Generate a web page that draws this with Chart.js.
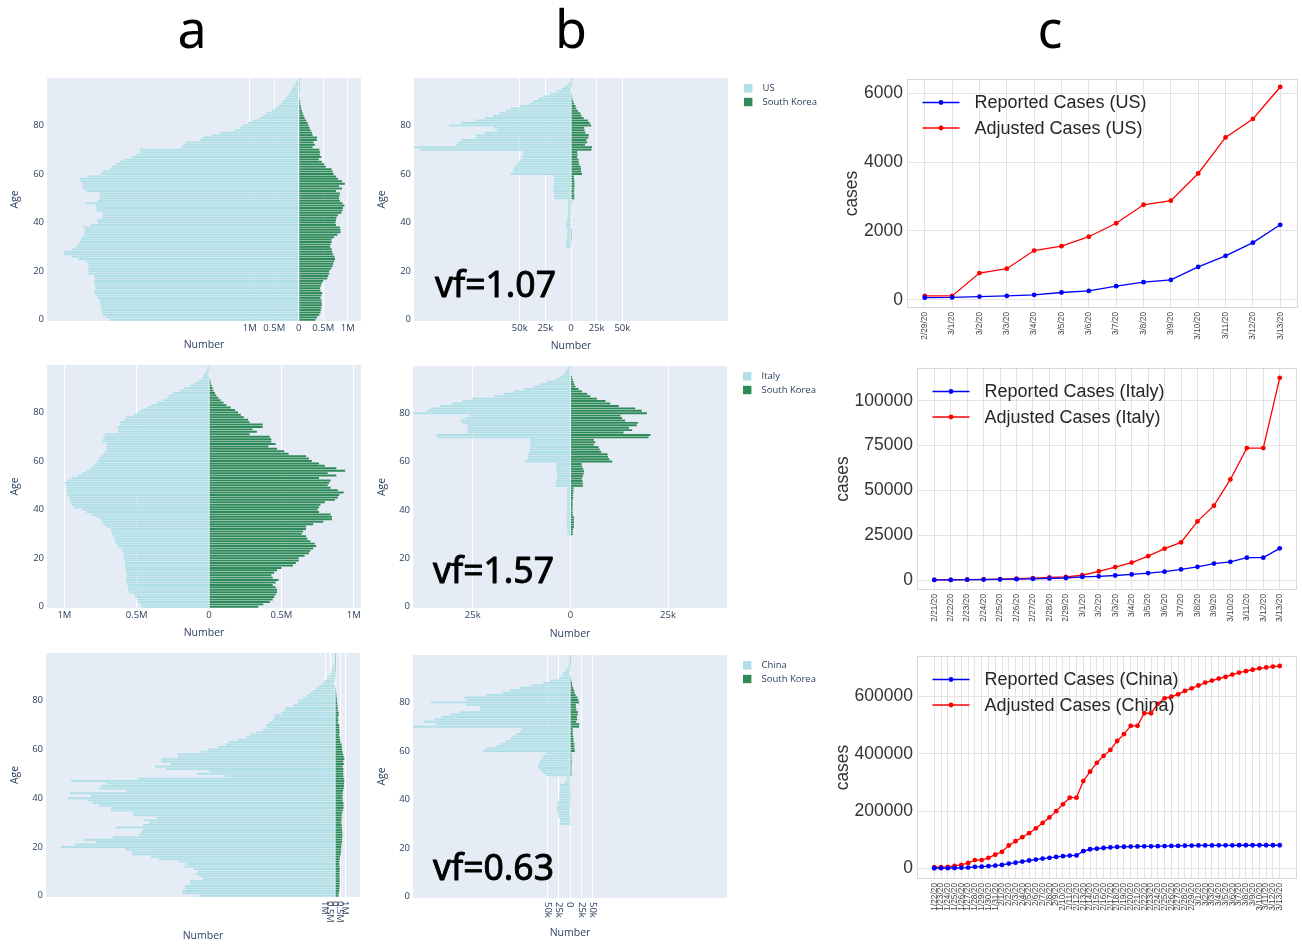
<!DOCTYPE html>
<html>
<head>
<meta charset="utf-8">
<script src="https://cdn.jsdelivr.net/npm/chart.js@4.4.0/dist/chart.umd.min.js"></script>
<style>
  body { margin: 0; background: #fff; width: 1302px; height: 944px; position: relative; overflow: hidden; }
  canvas { position: absolute; }
  .panel { position: absolute; top: 2px; width: 100px; text-align: center; font-family: 'Noto Sans', sans-serif; font-size: 52px; line-height: 52px; color: #000; }
</style>
</head>
<body>
<div class="panel" style="left:142px">a</div>
<div class="panel" style="left:521px">b</div>
<div class="panel" style="left:1000px">c</div>

<canvas id="a1"></canvas><canvas id="a2"></canvas><canvas id="a3"></canvas>
<canvas id="b1"></canvas><canvas id="b2"></canvas><canvas id="b3"></canvas>
<canvas id="c1"></canvas><canvas id="c2"></canvas><canvas id="c3"></canvas>

<script>
// ---- data: population by single year of age (millions) ----
const ages = Array.from({length: 100}, (_, i) => String(i));
const ageTicks = [0, 20, 40, 60, 80];

const usPop = [
  3.86, 3.95, 4.00, 4.02, 4.03, 4.04, 4.05, 4.06, 4.06, 4.10,
  4.15, 4.18, 4.17, 4.15, 4.16, 4.18, 4.17, 4.16, 4.18, 4.30,
  4.30, 4.30, 4.28, 4.30, 4.33, 4.50, 4.64, 4.80, 4.80, 4.62,
  4.55, 4.50, 4.47, 4.45, 4.42, 4.38, 4.37, 4.37, 4.40, 4.25,
  4.10, 4.12, 4.02, 4.00, 4.02, 4.13, 4.13, 4.15, 4.35, 4.10,
  4.06, 4.07, 4.07, 4.33, 4.40, 4.40, 4.42, 4.47, 4.47, 4.30,
  4.03, 4.00, 3.86, 3.82, 3.72, 3.65, 3.55, 3.41, 3.31, 3.24,
  3.24, 2.39, 2.36, 2.29, 2.02, 1.95, 1.78, 1.61, 1.31, 1.20,
  1.14, 1.03, 0.93, 0.80, 0.73, 0.66, 0.56, 0.49, 0.42, 0.35,
  0.32, 0.27, 0.24, 0.20, 0.17, 0.14, 0.12, 0.08, 0.05, 0.01
];
const italyPop = [
  0.465, 0.475, 0.49, 0.50, 0.51, 0.52, 0.55, 0.56, 0.56, 0.565,
  0.57, 0.575, 0.575, 0.57, 0.575, 0.575, 0.58, 0.58, 0.58, 0.585,
  0.59, 0.59, 0.59, 0.60, 0.61, 0.63, 0.645, 0.65, 0.65, 0.66,
  0.67, 0.675, 0.68, 0.71, 0.73, 0.74, 0.75, 0.78, 0.81, 0.85,
  0.88, 0.93, 0.95, 0.96, 0.96, 0.97, 0.98, 0.98, 0.985, 0.98,
  0.99, 1.00, 0.98, 0.95, 0.91, 0.88, 0.85, 0.82, 0.80, 0.78,
  0.77, 0.76, 0.75, 0.73, 0.72, 0.71, 0.71, 0.71, 0.74, 0.73,
  0.73, 0.72, 0.63, 0.63, 0.63, 0.615, 0.615, 0.59, 0.57, 0.52,
  0.49, 0.47, 0.43, 0.40, 0.36, 0.32, 0.29, 0.28, 0.25, 0.20,
  0.17, 0.13, 0.10, 0.07, 0.05, 0.04, 0.03, 0.02, 0.012, 0.005
];
const chinaPop = [
  13.6, 15.3, 15.2, 15.0, 15.0, 14.5, 14.5, 13.2, 13.6, 13.9,
  13.7, 14.1, 15.1, 14.9, 15.6, 17.6, 18.4, 20.3, 20.3, 21.0,
  27.4, 26.0, 23.9, 25.1, 22.2, 19.6, 19.4, 19.2, 21.9, 19.2,
  18.6, 19.1, 17.8, 20.2, 20.2, 22.4, 22.4, 23.6, 24.2, 24.7,
  26.7, 24.4, 26.5, 20.9, 23.6, 23.4, 22.8, 26.4, 19.7, 11.0,
  13.8, 12.6, 16.9, 18.0, 16.4, 17.4, 17.4, 15.7, 15.7, 13.4,
  12.7, 11.7, 10.9, 10.6, 9.7, 8.9, 8.5, 7.9, 7.2, 6.9,
  6.9, 6.6, 6.2, 6.1, 6.0, 5.4, 5.0, 5.0, 4.2, 3.7,
  3.7, 3.2, 2.8, 2.5, 2.2, 1.9, 1.6, 1.3, 1.0, 0.8,
  0.6, 0.45, 0.35, 0.27, 0.2, 0.15, 0.11, 0.08, 0.05, 0.03
];
const koreaPop = [
  0.34, 0.375, 0.42, 0.44, 0.45, 0.46, 0.47, 0.47, 0.46, 0.44,
  0.46, 0.48, 0.44, 0.43, 0.45, 0.47, 0.50, 0.58, 0.60, 0.62,
  0.62, 0.66, 0.69, 0.70, 0.72, 0.74, 0.73, 0.70, 0.68, 0.67,
  0.64, 0.65, 0.67, 0.67, 0.72, 0.79, 0.85, 0.85, 0.84, 0.76,
  0.75, 0.76, 0.77, 0.80, 0.87, 0.89, 0.90, 0.93, 0.89, 0.84,
  0.82, 0.83, 0.84, 0.76, 0.88, 0.82, 0.94, 0.88, 0.80, 0.76,
  0.71, 0.69, 0.67, 0.55, 0.52, 0.47, 0.41, 0.46, 0.43, 0.43,
  0.42, 0.28, 0.33, 0.30, 0.37, 0.37, 0.28, 0.27, 0.24, 0.22,
  0.20, 0.18, 0.15, 0.12, 0.10, 0.08, 0.065, 0.05, 0.04, 0.03,
  0.025, 0.018, 0.012, 0.009, 0.006, 0.004, 0.003, 0.002, 0.001, 0.001
];

// ---- data: cases by age (thousands) ----
const usCases = [
  0, 0, 0, 0, 0, 0, 0, 0, 0, 0,
  0, 0, 0, 0, 0, 0, 0, 0, 0, 0,
  0, 0, 0, 0, 0, 0, 0, 0, 0, 0,
  5, 5, 5, 4, 4, 4, 3.5, 3.5, 5, 5,
  5, 3.5, 3.5, 3, 3, 3, 3, 3, 3, 3,
  16, 16.5, 16.5, 17, 17, 17, 17, 16.5, 16.5, 16,
  59, 57, 56, 55, 53, 51, 49, 48, 47, 47,
  147, 155, 112, 110, 107, 93, 93, 84, 72, 75,
  119, 107, 93, 84, 76, 70, 64, 59, 50, 40,
  37, 32, 27, 20, 14, 9, 6, 2.6, 1, 0.5
];
const italyCases = [
  0, 0, 0, 0, 0, 0, 0, 0, 0, 0,
  0, 0, 0, 0, 0, 0, 0, 0, 0, 0,
  0, 0, 0, 0, 0, 0, 0, 0, 0, 0,
  0.8, 0.8, 0.8, 0.9, 0.9, 1.0, 1.0, 1.0, 0.9, 0.9,
  0.9, 0.8, 0.8, 0.8, 0.9, 0.9, 0.9, 0.9, 0.8, 0.8,
  3.8, 3.8, 3.6, 3.4, 3.4, 3.4, 3.5, 3.6, 3.6, 3.7,
  11.5, 11.0, 10.9, 10.9, 10.4, 10.4, 10.2, 10.4, 10.2, 10.4,
  34.0, 34.3, 26.4, 26.5, 26.4, 26.3, 27.7, 28.2, 26.9, 25.6,
  40.5, 36.7, 35.8, 33.3, 30.3, 27.7, 25.2, 19.6, 17.0, 14.5,
  11.9, 9.5, 7.7, 6.0, 3.8, 2.6, 1.9, 1.3, 0.9, 0.4
];
const chinaCases = [
  0, 0, 0, 0, 0, 0, 0, 0, 0, 0,
  0, 0, 0, 0, 0, 0, 0, 0, 0, 0,
  0, 0, 0, 0, 0, 0, 0, 0, 0, 0,
  22, 22, 22, 26, 26, 27, 29, 29, 29, 28,
  23.5, 23.5, 23, 22, 22, 22, 22, 12, 7, 7,
  53, 60, 65, 70, 70, 68, 66, 62, 59, 53,
  191, 184, 162, 151, 141, 132, 126, 118, 110, 107,
  350, 294, 323, 298, 283, 265, 243, 198, 198, 228,
  306, 228, 232, 184, 148, 132, 110, 85, 59, 44,
  24, 18, 15, 11, 7, 5, 3, 2, 1.5, 0.7
];
const koreaCases = [
  0, 0, 0, 0, 0, 0, 0, 0, 0, 0,
  0, 0, 0, 0, 0, 0, 0, 0, 0, 0,
  0, 0, 0, 0, 0, 0, 0, 0, 0, 0,
  0.6, 0.6, 0.7, 0.9, 0.9, 0.9, 0.9, 0.9, 0.6, 0.6,
  0.5, 0.6, 0.6, 0.6, 0.6, 0.7, 0.7, 0.7, 0.8, 0.8,
  3.2, 3.2, 3.1, 3.0, 3.2, 3.4, 3.5, 3.3, 3.0, 2.9,
  10.7, 10.0, 9.6, 9.5, 7.9, 7.5, 7.2, 6.0, 6.4, 6.0,
  20.0, 20.5, 13.6, 15.8, 15.0, 17.0, 17.3, 14.0, 13.2, 12.8,
  19.6, 18.3, 16.6, 12.4, 10.2, 9.0, 6.8, 5.1, 4.3, 3.0,
  2.1, 1.3, 1.0, 0.8, 0.6, 0.4, 0.2, 0.15, 0.1, 0.05
];

const popTicks = [-1, -0.5, 0, 0.5, 1];
const popTickLabels = ['1M', '0.5M', '0', '0.5M', '1M'];
const caseTicksWide = [-50, -25, 0, 25, 50];
const caseTickLabelsWide = ['50k', '25k', '0', '25k', '50k'];
const caseTicksNarrow = [-25, 0, 25];
const caseTickLabelsNarrow = ['25k', '0', '25k'];
const vfLabels = ['vf=1.07', 'vf=1.57', 'vf=0.63'];

// ---- data: daily cumulative cases ----
const usDates = ['2/29/20', '3/1/20', '3/2/20', '3/3/20', '3/4/20', '3/5/20', '3/6/20', '3/7/20',
  '3/8/20', '3/9/20', '3/10/20', '3/11/20', '3/12/20', '3/13/20'];
const usReported = [68, 74, 98, 118, 149, 217, 262, 402, 518, 583, 959, 1281, 1663, 2179];
const usAdjusted = [117, 117, 780, 907, 1434, 1561, 1834, 2224, 2761, 2878, 3668, 4712, 5249, 6175];
const usYTicks = [0, 2000, 4000, 6000];

const italyDates = ['2/21/20', '2/22/20', '2/23/20', '2/24/20', '2/25/20', '2/26/20', '2/27/20', '2/28/20',
  '2/29/20', '3/1/20', '3/2/20', '3/3/20', '3/4/20', '3/5/20', '3/6/20', '3/7/20', '3/8/20', '3/9/20',
  '3/10/20', '3/11/20', '3/12/20', '3/13/20'];
const italyReported = [20, 62, 155, 229, 322, 453, 655, 888, 1128, 1694, 2036, 2502, 3089, 3858,
  4636, 5883, 7375, 9172, 10149, 12462, 12462, 17660];
const italyAdjusted = [30, 100, 240, 360, 500, 710, 1030, 1400, 1770, 2660, 4800, 7200, 9700, 13300,
  17500, 21000, 32700, 41500, 56100, 73600, 73600, 112800];
const italyYTicks = [0, 25000, 50000, 75000, 100000];

const chinaDates = ['1/22/20', '1/23/20', '1/24/20', '1/25/20', '1/26/20', '1/27/20', '1/28/20', '1/29/20',
  '1/30/20', '1/31/20', '2/1/20', '2/2/20', '2/3/20', '2/4/20', '2/5/20', '2/6/20', '2/7/20', '2/8/20',
  '2/9/20', '2/10/20', '2/11/20', '2/12/20', '2/13/20', '2/14/20', '2/15/20', '2/16/20', '2/17/20',
  '2/18/20', '2/19/20', '2/20/20', '2/21/20', '2/22/20', '2/23/20', '2/24/20', '2/25/20', '2/26/20',
  '2/27/20', '2/28/20', '2/29/20', '3/1/20', '3/2/20', '3/3/20', '3/4/20', '3/5/20', '3/6/20', '3/7/20',
  '3/8/20', '3/9/20', '3/10/20', '3/11/20', '3/12/20', '3/13/20'];
const chinaReported = [555, 653, 941, 1438, 2118, 2927, 5578, 6165, 8235, 9925, 12038, 16787, 19887,
  23898, 27643, 30802, 34395, 37129, 40159, 42762, 44802, 45221, 60368, 66885, 69030, 71224, 73258,
  75136, 75639, 76197, 76823, 77016, 77234, 77749, 78159, 78598, 78927, 79355, 79929, 80134, 80261,
  80380, 80497, 80667, 80768, 80814, 80859, 80879, 80908, 80932, 80954, 80973];
const chinaAdjusted = [4600, 4600, 5000, 9000, 12000, 19000, 29000, 29000, 37000, 48000, 58000, 80000,
  95000, 109000, 123000, 140000, 159000, 178000, 200000, 224000, 247000, 247000, 305000, 338000, 369000,
  393000, 414000, 445000, 469000, 498000, 498000, 542000, 542000, 575000, 594000, 600000, 608000, 620000,
  629000, 639000, 649000, 656000, 663000, 669000, 677000, 684000, 689000, 694000, 699000, 702000,
  705000, 707000];
const chinaYTicks = [0, 200000, 400000, 600000];

// ---- styling ----
const PLOT_BG = '#E5ECF6';
const PLOTLY_TEXT = '#2a3f5f';
const LEFT_COLOR = '#b0e0e6';   // powderblue
const RIGHT_COLOR = '#2e8b57';  // seagreen
const OPEN_SANS = "'Open Sans', sans-serif";
const ARIAL = "'Liberation Sans', Arial, sans-serif";

const plotBg = {
  id: 'plotBg',
  beforeDraw(chart, args, opts) {
    if (!opts.color) return;
    const {ctx, chartArea: a} = chart;
    ctx.save();
    ctx.fillStyle = opts.color;
    ctx.fillRect(a.left, a.top, a.width, a.height);
    ctx.restore();
  }
};

const sideLegend = {
  id: 'sideLegend',
  afterDraw(chart, args, opts) {
    if (!opts.show) return;
    const {ctx, chartArea: a} = chart;
    ctx.save();
    ctx.font = '9.5px ' + OPEN_SANS;
    ctx.textBaseline = 'middle';
    ctx.textAlign = 'left';
    chart.data.datasets.forEach((ds, i) => {
      const y = a.top + 10.3 + i * 13.7;
      ctx.fillStyle = ds.backgroundColor;
      ctx.fillRect(a.right + 16, y - 4.2, 8.4, 8.4);
      ctx.fillStyle = PLOTLY_TEXT;
      ctx.fillText(ds.label, a.right + 34.5, y);
    });
    ctx.restore();
  }
};

// big "vf=" note; regular face with a thin outline gives a medium weight
const vfNote = {
  id: 'vfNote',
  afterDraw(chart, args, opts) {
    if (!opts.text) return;
    const {ctx, chartArea: a} = chart;
    const x = a.left + opts.dx, y = a.bottom + opts.dy;
    ctx.save();
    ctx.font = "35.5px 'Noto Sans', sans-serif";
    ctx.fillStyle = '#000';
    ctx.strokeStyle = '#000';
    ctx.lineWidth = 0.9;
    ctx.lineJoin = 'round';
    ctx.textBaseline = 'alphabetic';
    ctx.textAlign = 'left';
    ctx.fillText(opts.text, x, y);
    ctx.strokeText(opts.text, x, y);
    ctx.restore();
  }
};

// plotly-style tick labels turned 90 degrees clockwise
const cwTicks = {
  id: 'cwTicks',
  afterDraw(chart, args, opts) {
    if (!opts.labels) return;
    const {ctx, chartArea: a} = chart;
    const s = chart.scales.x;
    ctx.save();
    ctx.font = '9.5px ' + OPEN_SANS;
    ctx.fillStyle = PLOTLY_TEXT;
    ctx.textAlign = 'left';
    ctx.textBaseline = 'middle';
    s.ticks.forEach((t, i) => {
      ctx.save();
      ctx.translate(s.getPixelForValue(t.value), a.bottom + 4);
      ctx.rotate(Math.PI / 2);
      ctx.fillText(opts.labels[i], 0, 0);
      ctx.restore();
    });
    ctx.restore();
  }
};

const frame = {
  id: 'frame',
  beforeDatasetsDraw(chart, args, opts) {
    if (!opts.color) return;
    const {ctx, chartArea: a} = chart;
    ctx.save();
    ctx.strokeStyle = opts.color;
    ctx.lineWidth = 1;
    ctx.strokeRect(a.left + 0.5, a.top + 0.5, a.width - 1, a.height - 1);
    ctx.restore();
  }
};

const lineLegend = {
  id: 'lineLegend',
  afterDraw(chart, args, opts) {
    if (!opts.show) return;
    const {ctx, chartArea: a} = chart;
    ctx.save();
    ctx.font = '18px ' + ARIAL;
    ctx.textBaseline = 'middle';
    ctx.textAlign = 'left';
    chart.data.datasets.forEach((ds, i) => {
      const y = a.top + 23.5 + i * 25.5;
      ctx.strokeStyle = ds.borderColor;
      ctx.lineWidth = 1.3;
      ctx.beginPath();
      ctx.moveTo(a.left + 15.5, y);
      ctx.lineTo(a.left + 52.5, y);
      ctx.stroke();
      ctx.fillStyle = ds.backgroundColor;
      ctx.beginPath();
      ctx.arc(a.left + 34, y, 2.4, 0, Math.PI * 2);
      ctx.fill();
      ctx.fillStyle = '#262626';
      ctx.fillText(ds.label, a.left + 67.5, y + 1);
    });
    ctx.restore();
  }
};

function place(id, box) {
  const el = document.getElementById(id);
  el.width = box.w;
  el.height = box.h;
  el.style.left = box.x + 'px';
  el.style.top = box.y + 'px';
  return el;
}

function pyramid(id, cfg) {
  const box = cfg.box, area = cfg.area;
  const el = place(id, box);
  return new Chart(el, {
    type: 'bar',
    data: {
      labels: ages,
      datasets: [
        {label: cfg.names[0], data: cfg.left.map(v => -v), backgroundColor: LEFT_COLOR},
        {label: cfg.names[1], data: cfg.right, backgroundColor: RIGHT_COLOR}
      ]
    },
    options: {
      indexAxis: 'y',
      responsive: false,
      animation: false,
      datasets: {bar: {barPercentage: 0.8, categoryPercentage: 1, borderWidth: 0}},
      layout: {padding: {left: 0, bottom: 0, top: area.t - box.y, right: box.x + box.w - area.r}},
      plugins: {
        legend: {display: false},
        tooltip: {enabled: false},
        plotBg: {color: PLOT_BG},
        sideLegend: {show: !!cfg.legend},
        vfNote: cfg.note || {},
        cwTicks: {labels: cfg.rotated ? cfg.tickLabels : null}
      },
      scales: {
        x: {
          type: 'linear',
          min: cfg.range[0],
          max: cfg.range[1],
          afterBuildTicks: s => { s.ticks = cfg.ticks.map(v => ({value: v})); },
          afterFit: s => { s.height = box.y + box.h - area.b; },
          ticks: {
            display: !cfg.rotated, autoSkip: false, maxRotation: 0, padding: 2,
            font: {family: OPEN_SANS, size: 9.5}, color: PLOTLY_TEXT,
            callback: (v, i) => cfg.tickLabels[i]
          },
          grid: {color: '#ffffff', lineWidth: 1, drawTicks: false},
          border: {display: false},
          title: {display: true, text: 'Number', font: {family: OPEN_SANS, size: 10.5}, color: PLOTLY_TEXT,
                  padding: {top: 0, bottom: cfg.numPad}}
        },
        y: {
          type: 'category',
          reverse: true,
          stacked: true,
          afterBuildTicks: s => { s.ticks = ageTicks.map(v => ({value: v})); },
          afterFit: s => { s.width = area.l - box.x; },
          ticks: {autoSkip: false, padding: 3, font: {family: OPEN_SANS, size: 9.5}, color: PLOTLY_TEXT},
          grid: {display: false, drawTicks: false},
          border: {display: false},
          title: {display: true, text: 'Age', font: {family: OPEN_SANS, size: 10.5}, color: PLOTLY_TEXT,
                  padding: {top: cfg.agePad, bottom: 0}}
        }
      }
    },
    plugins: [plotBg, sideLegend, vfNote, cwTicks]
  });
}

function casesChart(id, cfg) {
  const box = cfg.box, area = cfg.area;
  const el = place(id, box);
  const n = cfg.dates.length;
  const margin = (n - 1) * 0.05;
  return new Chart(el, {
    type: 'line',
    data: {
      datasets: [
        {label: 'Reported Cases (' + cfg.country + ')', data: cfg.reported.map((v, i) => ({x: i, y: v})),
         borderColor: '#0000ff', backgroundColor: '#0000ff'},
        {label: 'Adjusted Cases (' + cfg.country + ')', data: cfg.adjusted.map((v, i) => ({x: i, y: v})),
         borderColor: '#ff0000', backgroundColor: '#ff0000'}
      ]
    },
    options: {
      responsive: false,
      animation: false,
      elements: {
        line: {borderWidth: 1.3, tension: 0},
        point: {radius: 2.4, borderWidth: 0}
      },
      layout: {padding: {left: 0, bottom: 0, top: area.t - box.y, right: box.x + box.w - area.r}},
      plugins: {
        legend: {display: false},
        tooltip: {enabled: false},
        frame: {color: '#d8d8d8'},
        lineLegend: {show: true}
      },
      scales: {
        x: {
          type: 'linear',
          min: -margin,
          max: n - 1 + margin,
          afterBuildTicks: s => { s.ticks = cfg.dates.map((d, i) => ({value: i})); },
          afterFit: s => { s.height = box.y + box.h - area.b; },
          ticks: {
            autoSkip: false, minRotation: 90, maxRotation: 90, padding: 4,
            font: {family: ARIAL, size: 8.3}, color: '#444',
            callback: v => cfg.dates[v]
          },
          grid: {color: '#e3e3e3', lineWidth: 1, drawTicks: false},
          border: {display: false}
        },
        y: {
          type: 'linear',
          min: cfg.yRange[0],
          max: cfg.yRange[1],
          afterBuildTicks: s => { s.ticks = cfg.yTicks.map(v => ({value: v})); },
          afterFit: s => { s.width = area.l - box.x; },
          ticks: {padding: 4, font: {family: ARIAL, size: 17.5}, color: '#333', callback: v => String(v)},
          grid: {color: '#e3e3e3', lineWidth: 1, drawTicks: false},
          border: {display: false},
          title: {display: true, text: 'cases', font: {family: ARIAL, size: 17.5}, color: '#333',
                  padding: {top: cfg.casesPad, bottom: 0}}
        }
      }
    },
    plugins: [frame, lineLegend]
  });
}

// ---- column a: population pyramids ----
pyramid('a1', {box: {x: 0, y: 60, w: 370, h: 300}, area: {l: 47, t: 78, r: 361, b: 321},
  names: ['US', 'South Korea'], left: usPop, right: koreaPop, range: [-5.14, 1.27],
  ticks: popTicks, tickLabels: popTickLabels, numPad: 8.7, agePad: 8.7});
pyramid('a2', {box: {x: 0, y: 347, w: 370, h: 301}, area: {l: 47, t: 365, r: 361, b: 608},
  names: ['Italy', 'South Korea'], left: italyPop, right: koreaPop, range: [-1.12, 1.05],
  ticks: popTicks, tickLabels: popTickLabels, numPad: 8.7, agePad: 8.7});
pyramid('a3', {box: {x: 0, y: 635, w: 370, h: 309}, area: {l: 46, t: 653, r: 360, b: 897},
  names: ['China', 'South Korea'], left: chinaPop, right: koreaPop, range: [-28.9, 2.5],
  ticks: popTicks, tickLabels: popTickLabels, rotated: true, numPad: 1.7, agePad: 8.7});

// ---- column b: cases by age ----
pyramid('b1', {box: {x: 370, y: 60, w: 460, h: 300}, area: {l: 414, t: 78, r: 728, b: 321},
  names: ['US', 'South Korea'], left: usCases, right: koreaCases, range: [-153, 153],
  ticks: caseTicksWide, tickLabels: caseTickLabelsWide, numPad: 7.7, agePad: 5.7, legend: true,
  note: {text: vfLabels[0], dx: 21, dy: -24}});
pyramid('b2', {box: {x: 370, y: 347, w: 460, h: 301}, area: {l: 413, t: 366, r: 727, b: 608},
  names: ['Italy', 'South Korea'], left: italyCases, right: koreaCases, range: [-40.3, 40.1],
  ticks: caseTicksNarrow, tickLabels: caseTickLabelsNarrow, numPad: 7.7, agePad: 5.7, legend: true,
  note: {text: vfLabels[1], dx: 20, dy: -25}});
pyramid('b3', {box: {x: 370, y: 635, w: 460, h: 309}, area: {l: 413, t: 655, r: 727, b: 898},
  names: ['China', 'South Korea'], left: chinaCases, right: koreaCases, range: [-345.7, 345.7],
  ticks: caseTicksWide, tickLabels: caseTickLabelsWide, rotated: true, numPad: 4.7, agePad: 5.7, legend: true,
  note: {text: vfLabels[2], dx: 20, dy: -18}});

// ---- column c: reported vs adjusted ----
casesChart('c1', {box: {x: 830, y: 60, w: 472, h: 290}, area: {l: 907, t: 79, r: 1300, b: 308},
  country: 'US', dates: usDates, reported: usReported, adjusted: usAdjusted,
  yRange: [-232, 6406], yTicks: usYTicks, casesPad: 11.5});
casesChart('c2', {box: {x: 830, y: 350, w: 472, h: 280}, area: {l: 917, t: 368, r: 1297, b: 590},
  country: 'Italy', dates: italyDates, reported: italyReported, adjusted: italyAdjusted,
  yRange: [-5580, 118300], yTicks: italyYTicks, casesPad: 2.8});
casesChart('c3', {box: {x: 830, y: 640, w: 472, h: 304}, area: {l: 917, t: 656, r: 1297, b: 879},
  country: 'China', dates: chinaDates, reported: chinaReported, adjusted: chinaAdjusted,
  yRange: [-37000, 742000], yTicks: chinaYTicks, casesPad: 2.8});
</script>
</body>
</html>
